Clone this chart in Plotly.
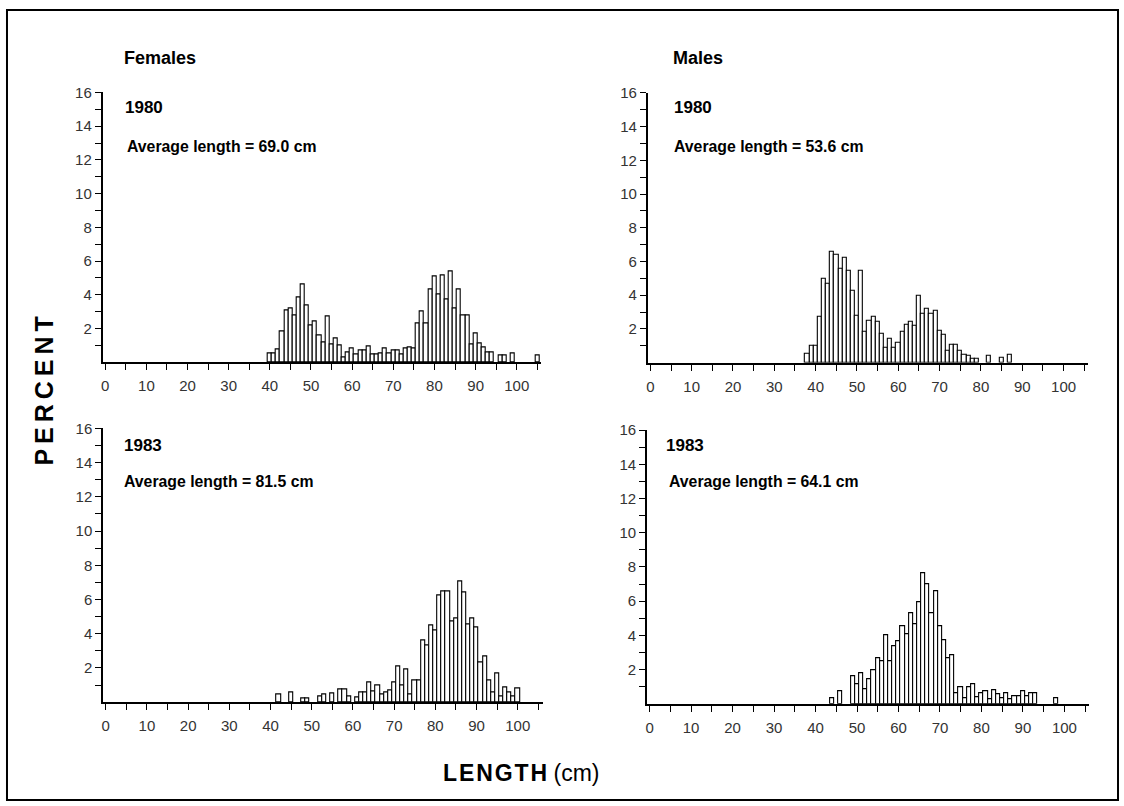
import plotly.graph_objects as go

W, H = 1124, 806

# ---------------- data (length in cm, percent) ----------------
f80_len = list(range(40, 95)) + [96, 97, 99, 105]
f80_pct = [0.5, 0.5, 0.75, 1.85, 3.05, 3.2, 2.8, 3.85, 4.6, 3.4,
           2.2, 2.45, 1.6, 1.2, 2.7, 1.05, 1.4, 1.0, 0.3, 0.6,
           0.8, 0.45, 0.7, 0.7, 0.95, 0.45, 0.45, 0.55, 0.8, 0.55,
           0.7, 0.7, 0.45, 0.8, 0.9, 0.85, 2.3, 3.0, 2.3, 4.3,
           5.1, 4.0, 5.15, 3.7, 5.4, 3.2, 4.3, 2.8, 2.8, 1.05,
           1.7, 1.1, 0.9, 0.6, 0.6,
           0.4, 0.4, 0.5, 0.4]

m80_len = list(range(38, 80)) + [82, 85, 87]
m80_pct = [0.55, 1.0, 1.0, 2.7, 4.95, 4.7, 6.6, 6.4, 5.55, 6.2,
           5.45, 4.27, 2.8, 5.45, 1.86, 2.5, 2.7, 2.45, 1.73, 0.88,
           1.43, 0.88, 1.2, 1.86, 2.27, 2.45, 2.18, 3.94, 2.9, 3.2,
           2.9, 3.1, 1.92, 1.67, 0.7, 1.08, 1.08, 0.69, 0.45, 0.42,
           0.25, 0.25,
           0.4, 0.3, 0.45]

f83_len = [42, 45, 48, 49, 52, 53, 55, 57, 58, 59, 61] + list(range(62, 101))
f83_pct = [0.48, 0.55, 0.2, 0.2, 0.35, 0.45, 0.5, 0.72, 0.72, 0.35, 0.3,
           0.54, 0.54, 1.18, 0.64, 0.97, 0.45, 0.54, 0.68, 1.18, 2.1,
           1.0, 1.94, 0.45, 1.26, 1.26, 3.6, 3.3, 4.46, 4.17, 6.26,
           6.5, 6.5, 4.7, 4.9, 7.03, 6.4, 4.55, 4.9, 4.38, 2.3,
           2.67, 1.26, 0.54, 1.7, 0.35, 0.87, 0.54, 0.35, 0.8]

m83_len = [44, 46] + list(range(49, 94)) + [98]
m83_pct = [0.35, 0.74,
           1.6, 1.16, 1.8, 0.85, 1.45, 2.0, 2.7, 2.5, 4.0, 2.5,
           3.35, 3.66, 4.57, 4.1, 5.33, 4.65, 5.93, 7.67, 7.0, 5.3,
           6.6, 4.55, 3.7, 2.67, 2.87, 0.64, 0.97, 0.31, 0.97, 1.16,
           0.39, 0.64, 0.74, 0.25, 0.78, 0.54, 0.35, 0.64, 0.25, 0.45,
           0.45, 0.74, 0.45, 0.6, 0.6,
           0.35]

x_major = list(range(0, 101, 10))
x_minor = list(range(5, 106, 10))
y_major = list(range(2, 17, 2))
y_minor = list(range(1, 17, 2))

titles_year = ["1980", "1980", "1983", "1983"]
titles_avg = ["Average length = 69.0 cm", "Average length = 53.6 cm",
              "Average length = 81.5 cm", "Average length = 64.1 cm"]

# ---------------- layout geometry (pixels) ----------------
# (x of cm 0, px per cm, baseline y, px per percent)
panels = [
    (103.4, 4.123, 357.3, 17.06),
    (649.5, 4.140, 357.7, 17.06),
    (103.9, 4.128, 701.0, 17.30),
    (648.8, 4.155, 702.7, 17.30),
]
series = [(f80_len, f80_pct), (m80_len, m80_pct), (f83_len, f83_pct), (m83_len, m83_pct)]

XMIN, XMAX = -0.6, 106.0
YMAX = 16.0


def px(x):
    return x / W


def py(y):
    return 1 - y / H


FONT = "Liberation Sans, Arial, sans-serif"

fig = go.Figure()
layout = dict(
    width=W, height=H, margin=dict(l=0, r=0, t=0, b=0), autosize=False,
    paper_bgcolor="white", plot_bgcolor="white", showlegend=False,
    bargap=0, barmode="overlay",
)

for i, ((x0, sx, base, sy), (lens, pcts)) in enumerate(zip(panels, series)):
    n = "" if i == 0 else str(i + 1)
    left = x0 + XMIN * sx
    right = x0 + XMAX * sx
    top = base - YMAX * sy
    fig.add_trace(go.Bar(
        x=lens, y=pcts, width=1.0,
        marker=dict(color="white", line=dict(color="black", width=1.1)),
        xaxis="x" + n, yaxis="y" + n, hoverinfo="skip",
    ))
    layout["xaxis" + n] = dict(
        domain=[px(left), px(right)], range=[XMIN, XMAX], anchor="y" + n,
        showgrid=False, zeroline=False, showline=True, linecolor="black", linewidth=2,
        ticks="outside", ticklen=6, tickwidth=1.3, tickcolor="black",
        tickvals=x_major, ticktext=[str(v) for v in x_major],
        ticklabelstandoff=3,
        tickfont=dict(family=FONT, size=15, color="#333333"),
        minor=dict(tickvals=x_minor, ticks="outside", ticklen=6, tickwidth=1.3, tickcolor="black"),
        fixedrange=True,
    )
    layout["yaxis" + n] = dict(
        domain=[py(base), py(top)], range=[0, YMAX], anchor="x" + n,
        showgrid=False, zeroline=False, showline=True, linecolor="black", linewidth=2,
        ticks="outside", ticklen=6, tickwidth=1.3, tickcolor="black",
        tickvals=y_major, ticktext=[str(v) for v in y_major],
        tickfont=dict(family=FONT, size=15, color="#333333"),
        minor=dict(tickvals=y_minor, ticks="outside", ticklen=6, tickwidth=1.3, tickcolor="black"),
        fixedrange=True,
    )

fig.update_layout(**layout)

ann = []


def text(x, y, s, size, bold=True, xanchor="left", angle=0):
    ann.append(dict(
        x=px(x), y=py(y), xref="paper", yref="paper", text=s, showarrow=False,
        xanchor=xanchor, yanchor="middle", textangle=angle,
        font=dict(family=FONT, size=size, color="black", weight="bold" if bold else "normal"),
    ))


text(120, 50, "Females", 18)
text(670, 50, "Males", 18)
year_pos = [(121, 100), (671, 100), (120, 441), (663, 441)]
avg_pos = [(123, 139), (671, 139), (120, 478), (666, 478)]
for (yx, yy), (ax, ay), yt, at in zip(year_pos, avg_pos, titles_year, titles_avg):
    text(yx, yy, yt, 17)
    text(ax, ay, at, 15.8)

text(42, 386, "P\u2009E\u2009R\u2009C\u2009E\u2009N\u2009T", 25, xanchor="center", angle=-90)
ann.append(dict(
    x=px(520), y=py(773), xref="paper", yref="paper", showarrow=False,
    xanchor="center", yanchor="middle",
    text="<b>L\u200aE\u200aN\u200aG\u200aT\u200aH</b> (cm)",
    font=dict(family=FONT, size=23, color="black"),
))

fig.update_layout(annotations=ann)
fig.add_shape(type="rect", xref="paper", yref="paper",
              x0=px(5), y0=py(800), x1=px(1118), y1=py(1),
              line=dict(color="black", width=2), fillcolor="rgba(0,0,0,0)")

fig.write_html(
    "out.html",
    config={"displayModeBar": False, "responsive": False},
    default_width="1124px", default_height="806px",
    post_script=(
        "document.documentElement.style.margin='0';"
        "document.documentElement.style.overflow='hidden';"
        "document.body.style.margin='0';document.body.style.padding='0';"
        "document.body.style.overflow='hidden';"
        "var gd=document.getElementById('{plot_id}');"
        "gd.style.position='fixed';gd.style.left='0px';gd.style.top='0px';"
    ),
)
